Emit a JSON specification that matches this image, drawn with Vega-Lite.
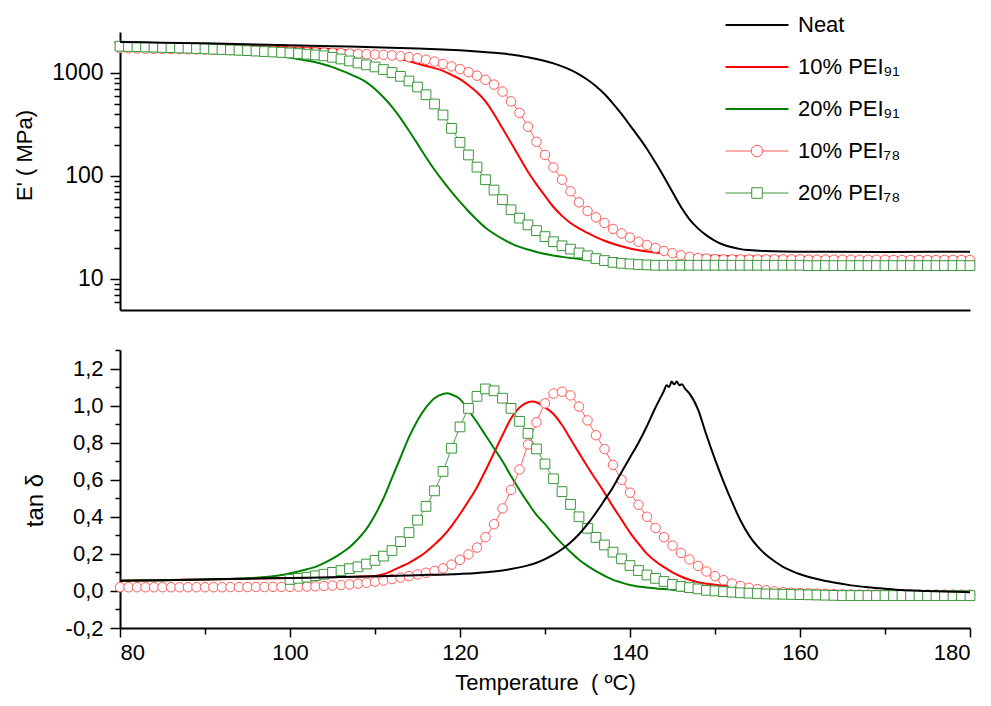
{
"$schema": "https://vega.github.io/schema/vega-lite/v6.json",
"padding": {"left": 13, "top": 14, "right": 8, "bottom": 8},
"background": "white",
"config": {
  "font": "Liberation Sans",
  "view": {"stroke": null},
  "axis": {"grid": false, "domainColor": "#000", "tickColor": "#000", "labelColor": "#000", "titleColor": "#000", "domainWidth": 2, "tickWidth": 1.5, "labelFont": "Liberation Sans", "titleFont": "Liberation Sans", "titleFontWeight": "normal"},
  "line": {"interpolate": "monotone"}
},
"datasets": {
"top": [
{"s":"Neat","T":80,"E":2000},{"s":"Neat","T":85,"E":1970},{"s":"Neat","T":90,"E":1940},{"s":"Neat","T":95,"E":1900},{"s":"Neat","T":100,"E":1860},{"s":"Neat","T":105,"E":1820},{"s":"Neat","T":110,"E":1780},{"s":"Neat","T":115,"E":1730},{"s":"Neat","T":118,"E":1690},{"s":"Neat","T":120,"E":1660},{"s":"Neat","T":122,"E":1620},{"s":"Neat","T":124,"E":1570},{"s":"Neat","T":125,"E":1545},{"s":"Neat","T":126,"E":1510},{"s":"Neat","T":127,"E":1470},{"s":"Neat","T":128,"E":1420},{"s":"Neat","T":129,"E":1370},{"s":"Neat","T":130,"E":1310},{"s":"Neat","T":131,"E":1240},{"s":"Neat","T":132,"E":1160},{"s":"Neat","T":133,"E":1070},{"s":"Neat","T":134,"E":970},{"s":"Neat","T":135,"E":860},{"s":"Neat","T":136,"E":745},{"s":"Neat","T":137,"E":625},{"s":"Neat","T":138,"E":505},{"s":"Neat","T":139,"E":400},{"s":"Neat","T":140,"E":310},{"s":"Neat","T":141,"E":240},{"s":"Neat","T":142,"E":183},{"s":"Neat","T":143,"E":135},{"s":"Neat","T":144,"E":98},{"s":"Neat","T":145,"E":70},{"s":"Neat","T":146,"E":50},{"s":"Neat","T":147,"E":38},{"s":"Neat","T":148,"E":31},{"s":"Neat","T":149,"E":26.5},{"s":"Neat","T":150,"E":23.5},{"s":"Neat","T":151,"E":21.5},{"s":"Neat","T":152,"E":20.3},{"s":"Neat","T":153,"E":19.5},{"s":"Neat","T":154,"E":19.1},{"s":"Neat","T":156,"E":18.7},{"s":"Neat","T":158,"E":18.5},{"s":"Neat","T":160,"E":18.4},{"s":"Neat","T":170,"E":18.3},{"s":"Neat","T":180,"E":18.4},
{"s":"10% PEI91","T":80,"E":1960},{"s":"10% PEI91","T":85,"E":1930},{"s":"10% PEI91","T":90,"E":1890},{"s":"10% PEI91","T":95,"E":1840},{"s":"10% PEI91","T":100,"E":1780},{"s":"10% PEI91","T":105,"E":1700},{"s":"10% PEI91","T":108,"E":1620},{"s":"10% PEI91","T":110,"E":1550},{"s":"10% PEI91","T":112,"E":1440},{"s":"10% PEI91","T":114,"E":1300},{"s":"10% PEI91","T":116,"E":1170},{"s":"10% PEI91","T":118,"E":1050},{"s":"10% PEI91","T":119,"E":960},{"s":"10% PEI91","T":120,"E":870},{"s":"10% PEI91","T":121,"E":760},{"s":"10% PEI91","T":122,"E":650},{"s":"10% PEI91","T":123,"E":530},{"s":"10% PEI91","T":124,"E":400},{"s":"10% PEI91","T":125,"E":290},{"s":"10% PEI91","T":126,"E":210},{"s":"10% PEI91","T":127,"E":152},{"s":"10% PEI91","T":128,"E":110},{"s":"10% PEI91","T":129,"E":83},{"s":"10% PEI91","T":130,"E":64},{"s":"10% PEI91","T":131,"E":50},{"s":"10% PEI91","T":132,"E":41},{"s":"10% PEI91","T":133,"E":35},{"s":"10% PEI91","T":134,"E":31},{"s":"10% PEI91","T":135,"E":28},{"s":"10% PEI91","T":136,"E":25.5},{"s":"10% PEI91","T":137,"E":23.5},{"s":"10% PEI91","T":138,"E":22},{"s":"10% PEI91","T":139,"E":20.8},{"s":"10% PEI91","T":140,"E":19.8},{"s":"10% PEI91","T":142,"E":18.5},{"s":"10% PEI91","T":145,"E":17.5},{"s":"10% PEI91","T":150,"E":16.8},{"s":"10% PEI91","T":160,"E":16.4},{"s":"10% PEI91","T":170,"E":16.2},{"s":"10% PEI91","T":180,"E":16.2},
{"s":"20% PEI91","T":80,"E":1980},{"s":"20% PEI91","T":85,"E":1940},{"s":"20% PEI91","T":88,"E":1880},{"s":"20% PEI91","T":90,"E":1820},{"s":"20% PEI91","T":92,"E":1750},{"s":"20% PEI91","T":94,"E":1670},{"s":"20% PEI91","T":96,"E":1580},{"s":"20% PEI91","T":98,"E":1500},{"s":"20% PEI91","T":100,"E":1410},{"s":"20% PEI91","T":102,"E":1320},{"s":"20% PEI91","T":103,"E":1270},{"s":"20% PEI91","T":104,"E":1210},{"s":"20% PEI91","T":105,"E":1140},{"s":"20% PEI91","T":106,"E":1060},{"s":"20% PEI91","T":107,"E":980},{"s":"20% PEI91","T":108,"E":900},{"s":"20% PEI91","T":109,"E":812},{"s":"20% PEI91","T":110,"E":700},{"s":"20% PEI91","T":111,"E":581},{"s":"20% PEI91","T":112,"E":470},{"s":"20% PEI91","T":113,"E":365},{"s":"20% PEI91","T":114,"E":275},{"s":"20% PEI91","T":115,"E":205},{"s":"20% PEI91","T":116,"E":152},{"s":"20% PEI91","T":117,"E":115},{"s":"20% PEI91","T":118,"E":89},{"s":"20% PEI91","T":119,"E":70},{"s":"20% PEI91","T":120,"E":56},{"s":"20% PEI91","T":121,"E":45.5},{"s":"20% PEI91","T":122,"E":37.5},{"s":"20% PEI91","T":123,"E":31.5},{"s":"20% PEI91","T":124,"E":27.5},{"s":"20% PEI91","T":125,"E":24.5},{"s":"20% PEI91","T":126,"E":22.2},{"s":"20% PEI91","T":127,"E":20.5},{"s":"20% PEI91","T":128,"E":19.3},{"s":"20% PEI91","T":129,"E":18.3},{"s":"20% PEI91","T":130,"E":17.5},{"s":"20% PEI91","T":132,"E":16.4},{"s":"20% PEI91","T":135,"E":15.3},{"s":"20% PEI91","T":140,"E":14.3},{"s":"20% PEI91","T":145,"E":13.8},{"s":"20% PEI91","T":150,"E":13.5},{"s":"20% PEI91","T":160,"E":13.3},{"s":"20% PEI91","T":170,"E":13.2},{"s":"20% PEI91","T":180,"E":13.2},
{"s":"10% PEI78","T":80,"E":1740},{"s":"10% PEI78","T":81,"E":1735},{"s":"10% PEI78","T":82,"E":1730},{"s":"10% PEI78","T":83,"E":1725},{"s":"10% PEI78","T":84,"E":1720},{"s":"10% PEI78","T":85,"E":1715},{"s":"10% PEI78","T":86,"E":1710},{"s":"10% PEI78","T":87,"E":1705},{"s":"10% PEI78","T":88,"E":1700},{"s":"10% PEI78","T":89,"E":1695},{"s":"10% PEI78","T":90,"E":1690},{"s":"10% PEI78","T":91,"E":1682},{"s":"10% PEI78","T":92,"E":1675},{"s":"10% PEI78","T":93,"E":1668},{"s":"10% PEI78","T":94,"E":1660},{"s":"10% PEI78","T":95,"E":1650},{"s":"10% PEI78","T":96,"E":1642},{"s":"10% PEI78","T":97,"E":1635},{"s":"10% PEI78","T":98,"E":1627},{"s":"10% PEI78","T":99,"E":1620},{"s":"10% PEI78","T":100,"E":1611},{"s":"10% PEI78","T":101,"E":1603},{"s":"10% PEI78","T":102,"E":1595},{"s":"10% PEI78","T":103,"E":1587},{"s":"10% PEI78","T":104,"E":1578},{"s":"10% PEI78","T":105,"E":1568},{"s":"10% PEI78","T":106,"E":1558},{"s":"10% PEI78","T":107,"E":1547},{"s":"10% PEI78","T":108,"E":1536},{"s":"10% PEI78","T":109,"E":1525},{"s":"10% PEI78","T":110,"E":1512},{"s":"10% PEI78","T":111,"E":1498},{"s":"10% PEI78","T":112,"E":1480},{"s":"10% PEI78","T":113,"E":1455},{"s":"10% PEI78","T":114,"E":1425},{"s":"10% PEI78","T":115,"E":1390},{"s":"10% PEI78","T":116,"E":1345},{"s":"10% PEI78","T":117,"E":1290},{"s":"10% PEI78","T":118,"E":1222},{"s":"10% PEI78","T":119,"E":1160},{"s":"10% PEI78","T":120,"E":1093},{"s":"10% PEI78","T":121,"E":1020},{"s":"10% PEI78","T":122,"E":942},{"s":"10% PEI78","T":123,"E":860},{"s":"10% PEI78","T":124,"E":771},{"s":"10% PEI78","T":125,"E":660},{"s":"10% PEI78","T":126,"E":530},{"s":"10% PEI78","T":127,"E":410},{"s":"10% PEI78","T":128,"E":301},{"s":"10% PEI78","T":129,"E":215},{"s":"10% PEI78","T":130,"E":160},{"s":"10% PEI78","T":131,"E":121},{"s":"10% PEI78","T":132,"E":92},{"s":"10% PEI78","T":133,"E":71},{"s":"10% PEI78","T":134,"E":55.5},{"s":"10% PEI78","T":135,"E":45.7},{"s":"10% PEI78","T":136,"E":39.7},{"s":"10% PEI78","T":137,"E":35},{"s":"10% PEI78","T":138,"E":30.6},{"s":"10% PEI78","T":139,"E":27.7},{"s":"10% PEI78","T":140,"E":25.2},{"s":"10% PEI78","T":141,"E":23},{"s":"10% PEI78","T":142,"E":21.4},{"s":"10% PEI78","T":143,"E":20},{"s":"10% PEI78","T":144,"E":18.7},{"s":"10% PEI78","T":145,"E":17.8},{"s":"10% PEI78","T":146,"E":17},{"s":"10% PEI78","T":147,"E":16.4},{"s":"10% PEI78","T":148,"E":16},{"s":"10% PEI78","T":149,"E":15.8},{"s":"10% PEI78","T":150,"E":15.6},{"s":"10% PEI78","T":151,"E":15.5},{"s":"10% PEI78","T":152,"E":15.5},{"s":"10% PEI78","T":153,"E":15.5},{"s":"10% PEI78","T":154,"E":15.5},{"s":"10% PEI78","T":155,"E":15.5},{"s":"10% PEI78","T":156,"E":15.5},{"s":"10% PEI78","T":157,"E":15.5},{"s":"10% PEI78","T":158,"E":15.5},{"s":"10% PEI78","T":159,"E":15.5},{"s":"10% PEI78","T":160,"E":15.5},{"s":"10% PEI78","T":161,"E":15.4},{"s":"10% PEI78","T":162,"E":15.4},{"s":"10% PEI78","T":163,"E":15.4},{"s":"10% PEI78","T":164,"E":15.4},{"s":"10% PEI78","T":165,"E":15.4},{"s":"10% PEI78","T":166,"E":15.4},{"s":"10% PEI78","T":167,"E":15.4},{"s":"10% PEI78","T":168,"E":15.4},{"s":"10% PEI78","T":169,"E":15.4},{"s":"10% PEI78","T":170,"E":15.4},{"s":"10% PEI78","T":171,"E":15.3},{"s":"10% PEI78","T":172,"E":15.3},{"s":"10% PEI78","T":173,"E":15.3},{"s":"10% PEI78","T":174,"E":15.3},{"s":"10% PEI78","T":175,"E":15.3},{"s":"10% PEI78","T":176,"E":15.3},{"s":"10% PEI78","T":177,"E":15.3},{"s":"10% PEI78","T":178,"E":15.3},{"s":"10% PEI78","T":179,"E":15.3},{"s":"10% PEI78","T":180,"E":15.3},
{"s":"20% PEI78","T":80,"E":1820},{"s":"20% PEI78","T":81,"E":1810},{"s":"20% PEI78","T":82,"E":1800},{"s":"20% PEI78","T":83,"E":1790},{"s":"20% PEI78","T":84,"E":1780},{"s":"20% PEI78","T":85,"E":1770},{"s":"20% PEI78","T":86,"E":1760},{"s":"20% PEI78","T":87,"E":1750},{"s":"20% PEI78","T":88,"E":1740},{"s":"20% PEI78","T":89,"E":1728},{"s":"20% PEI78","T":90,"E":1716},{"s":"20% PEI78","T":91,"E":1703},{"s":"20% PEI78","T":92,"E":1690},{"s":"20% PEI78","T":93,"E":1676},{"s":"20% PEI78","T":94,"E":1662},{"s":"20% PEI78","T":95,"E":1647},{"s":"20% PEI78","T":96,"E":1632},{"s":"20% PEI78","T":97,"E":1616},{"s":"20% PEI78","T":98,"E":1600},{"s":"20% PEI78","T":99,"E":1583},{"s":"20% PEI78","T":100,"E":1565},{"s":"20% PEI78","T":101,"E":1545},{"s":"20% PEI78","T":102,"E":1522},{"s":"20% PEI78","T":103,"E":1497},{"s":"20% PEI78","T":104,"E":1468},{"s":"20% PEI78","T":105,"E":1420},{"s":"20% PEI78","T":106,"E":1368},{"s":"20% PEI78","T":107,"E":1309},{"s":"20% PEI78","T":108,"E":1250},{"s":"20% PEI78","T":109,"E":1200},{"s":"20% PEI78","T":110,"E":1145},{"s":"20% PEI78","T":111,"E":1080},{"s":"20% PEI78","T":112,"E":1010},{"s":"20% PEI78","T":113,"E":928},{"s":"20% PEI78","T":114,"E":836},{"s":"20% PEI78","T":115,"E":731},{"s":"20% PEI78","T":116,"E":615},{"s":"20% PEI78","T":117,"E":500},{"s":"20% PEI78","T":118,"E":391},{"s":"20% PEI78","T":119,"E":290},{"s":"20% PEI78","T":120,"E":212},{"s":"20% PEI78","T":121,"E":160},{"s":"20% PEI78","T":122,"E":122},{"s":"20% PEI78","T":123,"E":92},{"s":"20% PEI78","T":124,"E":73},{"s":"20% PEI78","T":125,"E":59},{"s":"20% PEI78","T":126,"E":47},{"s":"20% PEI78","T":127,"E":39},{"s":"20% PEI78","T":128,"E":33.5},{"s":"20% PEI78","T":129,"E":29.5},{"s":"20% PEI78","T":130,"E":25.8},{"s":"20% PEI78","T":131,"E":23},{"s":"20% PEI78","T":132,"E":21},{"s":"20% PEI78","T":133,"E":19.5},{"s":"20% PEI78","T":134,"E":17.9},{"s":"20% PEI78","T":135,"E":16.8},{"s":"20% PEI78","T":136,"E":15.8},{"s":"20% PEI78","T":137,"E":15.1},{"s":"20% PEI78","T":138,"E":14.5},{"s":"20% PEI78","T":139,"E":14.2},{"s":"20% PEI78","T":140,"E":14},{"s":"20% PEI78","T":141,"E":13.8},{"s":"20% PEI78","T":142,"E":13.7},{"s":"20% PEI78","T":143,"E":13.6},{"s":"20% PEI78","T":144,"E":13.6},{"s":"20% PEI78","T":145,"E":13.6},{"s":"20% PEI78","T":146,"E":13.6},{"s":"20% PEI78","T":147,"E":13.6},{"s":"20% PEI78","T":148,"E":13.6},{"s":"20% PEI78","T":149,"E":13.6},{"s":"20% PEI78","T":150,"E":13.6},{"s":"20% PEI78","T":151,"E":13.6},{"s":"20% PEI78","T":152,"E":13.6},{"s":"20% PEI78","T":153,"E":13.6},{"s":"20% PEI78","T":154,"E":13.6},{"s":"20% PEI78","T":155,"E":13.6},{"s":"20% PEI78","T":156,"E":13.6},{"s":"20% PEI78","T":157,"E":13.6},{"s":"20% PEI78","T":158,"E":13.6},{"s":"20% PEI78","T":159,"E":13.6},{"s":"20% PEI78","T":160,"E":13.6},{"s":"20% PEI78","T":161,"E":13.5},{"s":"20% PEI78","T":162,"E":13.5},{"s":"20% PEI78","T":163,"E":13.5},{"s":"20% PEI78","T":164,"E":13.5},{"s":"20% PEI78","T":165,"E":13.5},{"s":"20% PEI78","T":166,"E":13.5},{"s":"20% PEI78","T":167,"E":13.5},{"s":"20% PEI78","T":168,"E":13.5},{"s":"20% PEI78","T":169,"E":13.5},{"s":"20% PEI78","T":170,"E":13.5},{"s":"20% PEI78","T":171,"E":13.5},{"s":"20% PEI78","T":172,"E":13.5},{"s":"20% PEI78","T":173,"E":13.5},{"s":"20% PEI78","T":174,"E":13.5},{"s":"20% PEI78","T":175,"E":13.5},{"s":"20% PEI78","T":176,"E":13.5},{"s":"20% PEI78","T":177,"E":13.5},{"s":"20% PEI78","T":178,"E":13.5},{"s":"20% PEI78","T":179,"E":13.5},{"s":"20% PEI78","T":180,"E":13.5}
],
"bottom": [
{"s":"Neat","T":80,"d":0.055},{"s":"Neat","T":85,"d":0.058},{"s":"Neat","T":90,"d":0.062},{"s":"Neat","T":95,"d":0.066},{"s":"Neat","T":100,"d":0.07},{"s":"Neat","T":105,"d":0.074},{"s":"Neat","T":110,"d":0.079},{"s":"Neat","T":115,"d":0.085},{"s":"Neat","T":120,"d":0.092},{"s":"Neat","T":122,"d":0.097},{"s":"Neat","T":124,"d":0.105},{"s":"Neat","T":126,"d":0.118},{"s":"Neat","T":127,"d":0.127},{"s":"Neat","T":128,"d":0.138},{"s":"Neat","T":129,"d":0.152},{"s":"Neat","T":130,"d":0.172},{"s":"Neat","T":131,"d":0.196},{"s":"Neat","T":132,"d":0.225},{"s":"Neat","T":133,"d":0.262},{"s":"Neat","T":134,"d":0.306},{"s":"Neat","T":135,"d":0.36},{"s":"Neat","T":136,"d":0.422},{"s":"Neat","T":137,"d":0.49},{"s":"Neat","T":138,"d":0.56},{"s":"Neat","T":139,"d":0.64},{"s":"Neat","T":140,"d":0.72},{"s":"Neat","T":141,"d":0.8},{"s":"Neat","T":142,"d":0.89},{"s":"Neat","T":143,"d":0.99},{"s":"Neat","T":143.5,"d":1.035},{"s":"Neat","T":144,"d":1.08},{"s":"Neat","T":144.3,"d":1.11},{"s":"Neat","T":144.6,"d":1.1},{"s":"Neat","T":144.9,"d":1.13},{"s":"Neat","T":145.2,"d":1.115},{"s":"Neat","T":145.5,"d":1.13},{"s":"Neat","T":145.8,"d":1.11},{"s":"Neat","T":146.1,"d":1.115},{"s":"Neat","T":146.5,"d":1.09},{"s":"Neat","T":147,"d":1.065},{"s":"Neat","T":148,"d":0.98},{"s":"Neat","T":149,"d":0.84},{"s":"Neat","T":150,"d":0.71},{"s":"Neat","T":151,"d":0.59},{"s":"Neat","T":152,"d":0.48},{"s":"Neat","T":153,"d":0.38},{"s":"Neat","T":154,"d":0.3},{"s":"Neat","T":155,"d":0.24},{"s":"Neat","T":156,"d":0.195},{"s":"Neat","T":157,"d":0.16},{"s":"Neat","T":158,"d":0.13},{"s":"Neat","T":159,"d":0.108},{"s":"Neat","T":160,"d":0.09},{"s":"Neat","T":162,"d":0.064},{"s":"Neat","T":164,"d":0.045},{"s":"Neat","T":166,"d":0.03},{"s":"Neat","T":168,"d":0.02},{"s":"Neat","T":170,"d":0.012},{"s":"Neat","T":172,"d":0.005},{"s":"Neat","T":175,"d":0},{"s":"Neat","T":178,"d":-0.005},{"s":"Neat","T":180,"d":-0.007},
{"s":"10% PEI91","T":80,"d":0.055},{"s":"10% PEI91","T":90,"d":0.062},{"s":"10% PEI91","T":100,"d":0.07},{"s":"10% PEI91","T":105,"d":0.074},{"s":"10% PEI91","T":108,"d":0.077},{"s":"10% PEI91","T":110,"d":0.081},{"s":"10% PEI91","T":111,"d":0.09},{"s":"10% PEI91","T":112,"d":0.108},{"s":"10% PEI91","T":113,"d":0.13},{"s":"10% PEI91","T":114,"d":0.152},{"s":"10% PEI91","T":115,"d":0.178},{"s":"10% PEI91","T":116,"d":0.21},{"s":"10% PEI91","T":117,"d":0.25},{"s":"10% PEI91","T":118,"d":0.295},{"s":"10% PEI91","T":119,"d":0.35},{"s":"10% PEI91","T":120,"d":0.415},{"s":"10% PEI91","T":121,"d":0.485},{"s":"10% PEI91","T":122,"d":0.56},{"s":"10% PEI91","T":123,"d":0.65},{"s":"10% PEI91","T":124,"d":0.745},{"s":"10% PEI91","T":125,"d":0.84},{"s":"10% PEI91","T":126,"d":0.93},{"s":"10% PEI91","T":127,"d":0.99},{"s":"10% PEI91","T":128,"d":1.018},{"s":"10% PEI91","T":128.5,"d":1.022},{"s":"10% PEI91","T":129,"d":1.018},{"s":"10% PEI91","T":130,"d":0.99},{"s":"10% PEI91","T":131,"d":0.955},{"s":"10% PEI91","T":132,"d":0.895},{"s":"10% PEI91","T":133,"d":0.82},{"s":"10% PEI91","T":134,"d":0.745},{"s":"10% PEI91","T":135,"d":0.67},{"s":"10% PEI91","T":136,"d":0.6},{"s":"10% PEI91","T":137,"d":0.53},{"s":"10% PEI91","T":138,"d":0.455},{"s":"10% PEI91","T":139,"d":0.385},{"s":"10% PEI91","T":140,"d":0.315},{"s":"10% PEI91","T":141,"d":0.255},{"s":"10% PEI91","T":142,"d":0.2},{"s":"10% PEI91","T":143,"d":0.16},{"s":"10% PEI91","T":144,"d":0.128},{"s":"10% PEI91","T":145,"d":0.1},{"s":"10% PEI91","T":146,"d":0.078},{"s":"10% PEI91","T":147,"d":0.06},{"s":"10% PEI91","T":148,"d":0.047},{"s":"10% PEI91","T":150,"d":0.033},{"s":"10% PEI91","T":155,"d":0.015},{"s":"10% PEI91","T":160,"d":0.005},{"s":"10% PEI91","T":170,"d":-0.005},{"s":"10% PEI91","T":180,"d":-0.01},
{"s":"20% PEI91","T":80,"d":0.055},{"s":"20% PEI91","T":85,"d":0.058},{"s":"20% PEI91","T":90,"d":0.062},{"s":"20% PEI91","T":93,"d":0.065},{"s":"20% PEI91","T":95,"d":0.068},{"s":"20% PEI91","T":97,"d":0.075},{"s":"20% PEI91","T":99,"d":0.086},{"s":"20% PEI91","T":100,"d":0.095},{"s":"20% PEI91","T":101,"d":0.105},{"s":"20% PEI91","T":102,"d":0.117},{"s":"20% PEI91","T":103,"d":0.13},{"s":"20% PEI91","T":104,"d":0.15},{"s":"20% PEI91","T":105,"d":0.174},{"s":"20% PEI91","T":106,"d":0.203},{"s":"20% PEI91","T":107,"d":0.236},{"s":"20% PEI91","T":108,"d":0.28},{"s":"20% PEI91","T":109,"d":0.335},{"s":"20% PEI91","T":110,"d":0.41},{"s":"20% PEI91","T":111,"d":0.5},{"s":"20% PEI91","T":112,"d":0.61},{"s":"20% PEI91","T":113,"d":0.72},{"s":"20% PEI91","T":114,"d":0.83},{"s":"20% PEI91","T":115,"d":0.92},{"s":"20% PEI91","T":116,"d":0.99},{"s":"20% PEI91","T":117,"d":1.04},{"s":"20% PEI91","T":118,"d":1.063},{"s":"20% PEI91","T":118.5,"d":1.066},{"s":"20% PEI91","T":119,"d":1.06},{"s":"20% PEI91","T":120,"d":1.035},{"s":"20% PEI91","T":121,"d":0.975},{"s":"20% PEI91","T":122,"d":0.91},{"s":"20% PEI91","T":123,"d":0.84},{"s":"20% PEI91","T":124,"d":0.77},{"s":"20% PEI91","T":125,"d":0.7},{"s":"20% PEI91","T":126,"d":0.62},{"s":"20% PEI91","T":127,"d":0.545},{"s":"20% PEI91","T":128,"d":0.475},{"s":"20% PEI91","T":129,"d":0.41},{"s":"20% PEI91","T":130,"d":0.36},{"s":"20% PEI91","T":131,"d":0.305},{"s":"20% PEI91","T":132,"d":0.255},{"s":"20% PEI91","T":133,"d":0.21},{"s":"20% PEI91","T":134,"d":0.168},{"s":"20% PEI91","T":135,"d":0.135},{"s":"20% PEI91","T":136,"d":0.107},{"s":"20% PEI91","T":137,"d":0.082},{"s":"20% PEI91","T":138,"d":0.06},{"s":"20% PEI91","T":139,"d":0.045},{"s":"20% PEI91","T":140,"d":0.032},{"s":"20% PEI91","T":142,"d":0.018},{"s":"20% PEI91","T":144,"d":0.01},{"s":"20% PEI91","T":147,"d":-0.002},{"s":"20% PEI91","T":150,"d":-0.006},{"s":"20% PEI91","T":160,"d":-0.01},{"s":"20% PEI91","T":180,"d":-0.01},
{"s":"10% PEI78","T":80,"d":0.02},{"s":"10% PEI78","T":81,"d":0.02},{"s":"10% PEI78","T":82,"d":0.02},{"s":"10% PEI78","T":83,"d":0.02},{"s":"10% PEI78","T":84,"d":0.02},{"s":"10% PEI78","T":85,"d":0.02},{"s":"10% PEI78","T":86,"d":0.02},{"s":"10% PEI78","T":87,"d":0.02},{"s":"10% PEI78","T":88,"d":0.02},{"s":"10% PEI78","T":89,"d":0.02},{"s":"10% PEI78","T":90,"d":0.02},{"s":"10% PEI78","T":91,"d":0.02},{"s":"10% PEI78","T":92,"d":0.02},{"s":"10% PEI78","T":93,"d":0.021},{"s":"10% PEI78","T":94,"d":0.021},{"s":"10% PEI78","T":95,"d":0.021},{"s":"10% PEI78","T":96,"d":0.021},{"s":"10% PEI78","T":97,"d":0.021},{"s":"10% PEI78","T":98,"d":0.022},{"s":"10% PEI78","T":99,"d":0.022},{"s":"10% PEI78","T":100,"d":0.022},{"s":"10% PEI78","T":101,"d":0.023},{"s":"10% PEI78","T":102,"d":0.024},{"s":"10% PEI78","T":103,"d":0.025},{"s":"10% PEI78","T":104,"d":0.027},{"s":"10% PEI78","T":105,"d":0.029},{"s":"10% PEI78","T":106,"d":0.032},{"s":"10% PEI78","T":107,"d":0.035},{"s":"10% PEI78","T":108,"d":0.039},{"s":"10% PEI78","T":109,"d":0.044},{"s":"10% PEI78","T":110,"d":0.05},{"s":"10% PEI78","T":111,"d":0.056},{"s":"10% PEI78","T":112,"d":0.064},{"s":"10% PEI78","T":113,"d":0.072},{"s":"10% PEI78","T":114,"d":0.08},{"s":"10% PEI78","T":115,"d":0.089},{"s":"10% PEI78","T":116,"d":0.098},{"s":"10% PEI78","T":117,"d":0.108},{"s":"10% PEI78","T":118,"d":0.122},{"s":"10% PEI78","T":119,"d":0.142},{"s":"10% PEI78","T":120,"d":0.168},{"s":"10% PEI78","T":121,"d":0.197},{"s":"10% PEI78","T":122,"d":0.234},{"s":"10% PEI78","T":123,"d":0.29},{"s":"10% PEI78","T":124,"d":0.36},{"s":"10% PEI78","T":125,"d":0.445},{"s":"10% PEI78","T":126,"d":0.545},{"s":"10% PEI78","T":127,"d":0.655},{"s":"10% PEI78","T":128,"d":0.79},{"s":"10% PEI78","T":129,"d":0.91},{"s":"10% PEI78","T":130,"d":1.012},{"s":"10% PEI78","T":131,"d":1.065},{"s":"10% PEI78","T":132,"d":1.075},{"s":"10% PEI78","T":133,"d":1.055},{"s":"10% PEI78","T":134,"d":0.995},{"s":"10% PEI78","T":135,"d":0.92},{"s":"10% PEI78","T":136,"d":0.84},{"s":"10% PEI78","T":137,"d":0.765},{"s":"10% PEI78","T":138,"d":0.68},{"s":"10% PEI78","T":139,"d":0.6},{"s":"10% PEI78","T":140,"d":0.53},{"s":"10% PEI78","T":141,"d":0.465},{"s":"10% PEI78","T":142,"d":0.4},{"s":"10% PEI78","T":143,"d":0.34},{"s":"10% PEI78","T":144,"d":0.29},{"s":"10% PEI78","T":145,"d":0.245},{"s":"10% PEI78","T":146,"d":0.205},{"s":"10% PEI78","T":147,"d":0.17},{"s":"10% PEI78","T":148,"d":0.135},{"s":"10% PEI78","T":149,"d":0.105},{"s":"10% PEI78","T":150,"d":0.08},{"s":"10% PEI78","T":151,"d":0.058},{"s":"10% PEI78","T":152,"d":0.04},{"s":"10% PEI78","T":153,"d":0.027},{"s":"10% PEI78","T":154,"d":0.017},{"s":"10% PEI78","T":155,"d":0.01},{"s":"10% PEI78","T":156,"d":0.003},{"s":"10% PEI78","T":157,"d":-0.003},{"s":"10% PEI78","T":158,"d":-0.007},{"s":"10% PEI78","T":159,"d":-0.01},{"s":"10% PEI78","T":160,"d":-0.012},{"s":"10% PEI78","T":161,"d":-0.013},{"s":"10% PEI78","T":162,"d":-0.015},{"s":"10% PEI78","T":163,"d":-0.016},{"s":"10% PEI78","T":164,"d":-0.017},{"s":"10% PEI78","T":165,"d":-0.018},{"s":"10% PEI78","T":166,"d":-0.019},{"s":"10% PEI78","T":167,"d":-0.02},{"s":"10% PEI78","T":168,"d":-0.02},{"s":"10% PEI78","T":169,"d":-0.02},{"s":"10% PEI78","T":170,"d":-0.02},{"s":"10% PEI78","T":171,"d":-0.02},{"s":"10% PEI78","T":172,"d":-0.02},{"s":"10% PEI78","T":173,"d":-0.02},{"s":"10% PEI78","T":174,"d":-0.02},{"s":"10% PEI78","T":175,"d":-0.02},{"s":"10% PEI78","T":176,"d":-0.02},{"s":"10% PEI78","T":177,"d":-0.02},{"s":"10% PEI78","T":178,"d":-0.02},{"s":"10% PEI78","T":179,"d":-0.02},{"s":"10% PEI78","T":180,"d":-0.02},
{"s":"20% PEI78","T":100,"d":0.062},{"s":"20% PEI78","T":101,"d":0.068},{"s":"20% PEI78","T":102,"d":0.074},{"s":"20% PEI78","T":103,"d":0.082},{"s":"20% PEI78","T":104,"d":0.09},{"s":"20% PEI78","T":105,"d":0.1},{"s":"20% PEI78","T":106,"d":0.11},{"s":"20% PEI78","T":107,"d":0.12},{"s":"20% PEI78","T":108,"d":0.13},{"s":"20% PEI78","T":109,"d":0.145},{"s":"20% PEI78","T":110,"d":0.165},{"s":"20% PEI78","T":111,"d":0.188},{"s":"20% PEI78","T":112,"d":0.218},{"s":"20% PEI78","T":113,"d":0.266},{"s":"20% PEI78","T":114,"d":0.315},{"s":"20% PEI78","T":115,"d":0.382},{"s":"20% PEI78","T":116,"d":0.456},{"s":"20% PEI78","T":117,"d":0.54},{"s":"20% PEI78","T":118,"d":0.645},{"s":"20% PEI78","T":119,"d":0.77},{"s":"20% PEI78","T":120,"d":0.885},{"s":"20% PEI78","T":121,"d":0.985},{"s":"20% PEI78","T":122,"d":1.05},{"s":"20% PEI78","T":123,"d":1.09},{"s":"20% PEI78","T":124,"d":1.08},{"s":"20% PEI78","T":125,"d":1.04},{"s":"20% PEI78","T":126,"d":0.985},{"s":"20% PEI78","T":127,"d":0.915},{"s":"20% PEI78","T":128,"d":0.85},{"s":"20% PEI78","T":129,"d":0.766},{"s":"20% PEI78","T":130,"d":0.685},{"s":"20% PEI78","T":131,"d":0.605},{"s":"20% PEI78","T":132,"d":0.536},{"s":"20% PEI78","T":133,"d":0.467},{"s":"20% PEI78","T":134,"d":0.4},{"s":"20% PEI78","T":135,"d":0.338},{"s":"20% PEI78","T":136,"d":0.289},{"s":"20% PEI78","T":137,"d":0.248},{"s":"20% PEI78","T":138,"d":0.209},{"s":"20% PEI78","T":139,"d":0.173},{"s":"20% PEI78","T":140,"d":0.137},{"s":"20% PEI78","T":141,"d":0.11},{"s":"20% PEI78","T":142,"d":0.086},{"s":"20% PEI78","T":143,"d":0.068},{"s":"20% PEI78","T":144,"d":0.051},{"s":"20% PEI78","T":145,"d":0.035},{"s":"20% PEI78","T":146,"d":0.025},{"s":"20% PEI78","T":147,"d":0.018},{"s":"20% PEI78","T":148,"d":0.011},{"s":"20% PEI78","T":149,"d":0.003},{"s":"20% PEI78","T":150,"d":0},{"s":"20% PEI78","T":151,"d":-0.004},{"s":"20% PEI78","T":152,"d":-0.007},{"s":"20% PEI78","T":153,"d":-0.01},{"s":"20% PEI78","T":154,"d":-0.012},{"s":"20% PEI78","T":155,"d":-0.014},{"s":"20% PEI78","T":156,"d":-0.016},{"s":"20% PEI78","T":157,"d":-0.017},{"s":"20% PEI78","T":158,"d":-0.018},{"s":"20% PEI78","T":159,"d":-0.019},{"s":"20% PEI78","T":160,"d":-0.02},{"s":"20% PEI78","T":161,"d":-0.021},{"s":"20% PEI78","T":162,"d":-0.022},{"s":"20% PEI78","T":163,"d":-0.023},{"s":"20% PEI78","T":164,"d":-0.024},{"s":"20% PEI78","T":165,"d":-0.025},{"s":"20% PEI78","T":166,"d":-0.025},{"s":"20% PEI78","T":167,"d":-0.025},{"s":"20% PEI78","T":168,"d":-0.025},{"s":"20% PEI78","T":169,"d":-0.025},{"s":"20% PEI78","T":170,"d":-0.025},{"s":"20% PEI78","T":171,"d":-0.025},{"s":"20% PEI78","T":172,"d":-0.025},{"s":"20% PEI78","T":173,"d":-0.025},{"s":"20% PEI78","T":174,"d":-0.025},{"s":"20% PEI78","T":175,"d":-0.025},{"s":"20% PEI78","T":176,"d":-0.025},{"s":"20% PEI78","T":177,"d":-0.025},{"s":"20% PEI78","T":178,"d":-0.025},{"s":"20% PEI78","T":179,"d":-0.025},{"s":"20% PEI78","T":180,"d":-0.025}
]
},
"spacing": 39,
"resolve": {"scale": {"color": "independent"}, "legend": {"color": "independent"}},
"vconcat": [
{
  "width": 850, "height": 278,
  "data": {"name": "top"},
  "resolve": {"axis": {"y": "independent"}},
  "encoding": {
    "x": {"field": "T", "type": "quantitative", "scale": {"domain": [80, 180], "nice": false, "zero": false}, "axis": {"labels": false, "ticks": false, "title": null, "domainWidth": 2}}
  },
  "layer": [
    {
      "transform": [{"filter": "datum.s == '10% PEI91' || datum.s == '20% PEI91'"}],
      "mark": {"type": "line", "strokeWidth": 2},
      "encoding": {
        "y": {"field": "E", "type": "quantitative", "scale": {"type": "log", "domain": [5, 2500], "nice": false},
              "axis": {"orient": "left", "values": [10, 100, 1000], "format": "d", "tickSize": 10, "labelFontSize": 23, "labelPadding": 7, "title": "E' ( MPa)", "titleFontSize": 22, "titleX": -96, "titleY": 123, "titleAngle": 270, "titleAlign": "center", "titleBaseline": "middle"}},
        "color": {"field": "s", "type": "nominal",
          "scale": {"domain": ["Neat", "10% PEI91", "20% PEI91", "10% PEI78", "20% PEI78"], "range": ["#000000", "#ff0000", "#008000", "#ff5a5a", "#3a963a"]},
          "legend": {
            "orient": "none", "legendX": 626, "legendY": -18, "title": null, "padding": 0,
            "symbolType": "stroke", "symbolSize": 484, "symbolStrokeWidth": 2,
            "labelFontSize": 22, "labelFont": "Liberation Sans", "labelColor": "#000", "labelOffset": 30, "labelLimit": 0,
            "rowPadding": 20,
            "labelExpr": "replace(replace(datum.label, 'PEI91', 'PEI₉₁'), 'PEI78', 'PEI₇₈')",
            "encode": {"symbols": {"update": {
              "shape": {"signal": "datum.value == '10% PEI78' ? 'M-2.86,0H-0.52M0.52,0H2.86M-0.52,0A0.52,0.52 0 1 1 0.52,0A0.52,0.52 0 1 1 -0.52,0' : datum.value == '20% PEI78' ? 'M-2.86,0H-0.48M0.48,0H2.86M-0.48,-0.48H0.48V0.48H-0.48Z' : 'M-2.86,0H2.86'"},
              "strokeWidth": {"signal": "datum.value == '10% PEI78' || datum.value == '20% PEI78' ? 1 : 2"},
              "fill": {"value": "white"},
              "fillOpacity": {"value": 1},
              "opacity": {"value": 1}
            }}}
          }
        }
      }
    },
    {
      "transform": [{"filter": "datum.s == '10% PEI78'"}],
      "mark": {"type": "line", "strokeWidth": 1, "stroke": "#ff5a5a"},
      "encoding": {
        "y": {"field": "E", "type": "quantitative", "scale": {"type": "log", "domain": [5, 2500], "nice": false},
              "axis": {"orient": "left", "values": [6,7,8,9,20,30,40,50,60,70,80,90,200,300,400,500,600,700,800,900,2000], "tickSize": 6, "labels": false, "domain": false, "title": null}}
      }
    },
    {
      "transform": [{"filter": "datum.s == '20% PEI78'"}],
      "mark": {"type": "line", "strokeWidth": 1, "stroke": "#4c9f4c"},
      "encoding": {"y": {"field": "E", "type": "quantitative", "scale": {"type": "log", "domain": [5, 2500], "nice": false}, "axis": null}}
    },
    {
      "transform": [{"filter": "datum.s == '10% PEI78'"}],
      "mark": {"type": "point", "shape": "circle", "size": 90, "filled": false, "fill": "white", "fillOpacity": 1, "opacity": 1, "stroke": "#ff5a5a", "strokeWidth": 1},
      "encoding": {"y": {"field": "E", "type": "quantitative", "scale": {"type": "log", "domain": [5, 2500], "nice": false}, "axis": null}}
    },
    {
      "transform": [{"filter": "datum.s == '20% PEI78'"}],
      "mark": {"type": "point", "shape": "square", "size": 95, "filled": false, "fill": "white", "fillOpacity": 1, "opacity": 1, "stroke": "#3a963a", "strokeWidth": 1},
      "encoding": {"y": {"field": "E", "type": "quantitative", "scale": {"type": "log", "domain": [5, 2500], "nice": false}, "axis": null}}
    },
    {
      "transform": [{"filter": "datum.s == 'Neat'"}],
      "mark": {"type": "line", "strokeWidth": 2, "stroke": "#000000"},
      "encoding": {"y": {"field": "E", "type": "quantitative", "scale": {"type": "log", "domain": [5, 2500], "nice": false}, "axis": null}}
    }
  ]
},
{
  "width": 850, "height": 278,
  "data": {"name": "bottom"},
  "resolve": {"axis": {"y": "independent", "x": "independent"}},
  "layer": [
    {
      "transform": [{"filter": "datum.s == '10% PEI91' || datum.s == '20% PEI91'"}],
      "mark": {"type": "line", "strokeWidth": 2},
      "encoding": {
        "x": {"field": "T", "type": "quantitative", "scale": {"domain": [80, 180], "nice": false, "zero": false},
              "axis": {"orient": "bottom", "values": [80, 100, 120, 140, 160, 180], "tickSize": 9, "labelFontSize": 22, "labelPadding": 5, "title": "Temperature\u00a0\u00a0( ºC)", "titleFontSize": 22, "titlePadding": 9}},
        "y": {"field": "d", "type": "quantitative", "scale": {"domain": [-0.2, 1.3], "nice": false, "zero": false},
              "axis": {"orient": "left", "values": [-0.2, 0, 0.2, 0.4, 0.6, 0.8, 1.0, 1.2], "labelExpr": "replace(replace(format(datum.value, '.1f'), '.', ','), '−', '-')", "tickSize": 10, "labelFontSize": 22, "labelPadding": 7, "title": "tan δ", "titleFontSize": 24, "titleX": -85, "titleY": 150, "titleAngle": 270, "titleAlign": "center", "titleBaseline": "middle"}},
        "color": {"field": "s", "type": "nominal",
          "scale": {"domain": ["Neat", "10% PEI91", "20% PEI91", "10% PEI78", "20% PEI78"], "range": ["#000000", "#ff0000", "#008000", "#ff5a5a", "#3a963a"]},
          "legend": null}
      }
    },
    {
      "transform": [{"filter": "datum.s == '10% PEI78'"}],
      "mark": {"type": "line", "strokeWidth": 1, "stroke": "#ff5a5a"},
      "encoding": {
        "x": {"field": "T", "type": "quantitative", "scale": {"domain": [80, 180], "nice": false, "zero": false},
              "axis": {"orient": "bottom", "values": [90, 110, 130, 150, 170], "tickSize": 6, "labels": false, "domain": false, "title": null}},
        "y": {"field": "d", "type": "quantitative", "scale": {"domain": [-0.2, 1.3], "nice": false, "zero": false},
              "axis": {"orient": "left", "values": [-0.1, 0.1, 0.3, 0.5, 0.7, 0.9, 1.1, 1.3], "tickSize": 5, "labels": false, "domain": false, "title": null}}
      }
    },
    {
      "transform": [{"filter": "datum.s == '20% PEI78'"}],
      "mark": {"type": "line", "strokeWidth": 1, "stroke": "#4c9f4c"},
      "encoding": {
        "x": {"field": "T", "type": "quantitative", "scale": {"domain": [80, 180], "nice": false, "zero": false}, "axis": null},
        "y": {"field": "d", "type": "quantitative", "scale": {"domain": [-0.2, 1.3], "nice": false, "zero": false}, "axis": null}
      }
    },
    {
      "transform": [{"filter": "datum.s == '10% PEI78'"}],
      "mark": {"type": "point", "shape": "circle", "size": 90, "filled": false, "fill": "white", "fillOpacity": 1, "opacity": 1, "stroke": "#ff5a5a", "strokeWidth": 1},
      "encoding": {
        "x": {"field": "T", "type": "quantitative", "scale": {"domain": [80, 180], "nice": false, "zero": false}, "axis": null},
        "y": {"field": "d", "type": "quantitative", "scale": {"domain": [-0.2, 1.3], "nice": false, "zero": false}, "axis": null}
      }
    },
    {
      "transform": [{"filter": "datum.s == '20% PEI78'"}],
      "mark": {"type": "point", "shape": "square", "size": 95, "filled": false, "fill": "white", "fillOpacity": 1, "opacity": 1, "stroke": "#3a963a", "strokeWidth": 1},
      "encoding": {
        "x": {"field": "T", "type": "quantitative", "scale": {"domain": [80, 180], "nice": false, "zero": false}, "axis": null},
        "y": {"field": "d", "type": "quantitative", "scale": {"domain": [-0.2, 1.3], "nice": false, "zero": false}, "axis": null}
      }
    },
    {
      "transform": [{"filter": "datum.s == 'Neat'"}],
      "mark": {"type": "line", "strokeWidth": 2, "stroke": "#000000"},
      "encoding": {
        "x": {"field": "T", "type": "quantitative", "scale": {"domain": [80, 180], "nice": false, "zero": false}, "axis": null},
        "y": {"field": "d", "type": "quantitative", "scale": {"domain": [-0.2, 1.3], "nice": false, "zero": false}, "axis": null}
      }
    }
  ]
}
]
}
